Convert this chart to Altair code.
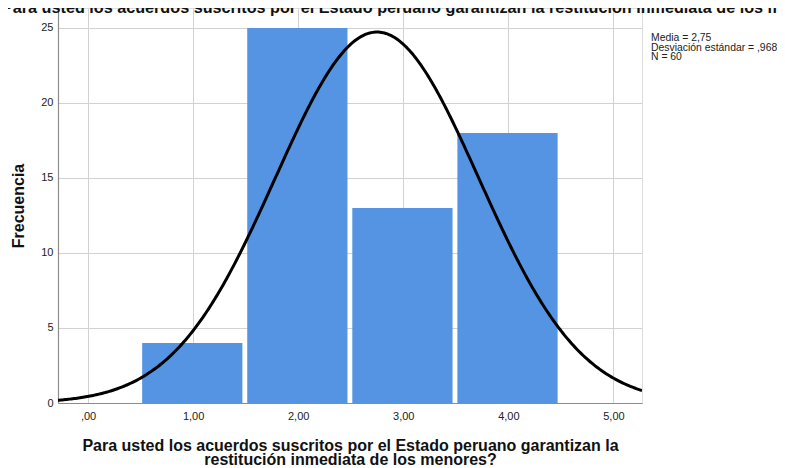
import altair as alt
import pandas as pd
import numpy as np

# ---- data ----
categories = [1, 2, 3, 4]
counts = [4, 25, 13, 18]
media = 2.75
desviacion = 0.968
n_total = 60
x_ticks = [0, 1, 2, 3, 4, 5]
x_tick_labels = [",00", "1,00", "2,00", "3,00", "4,00", "5,00"]
y_ticks = [0, 5, 10, 15, 20, 25]
stats_lines = ["Media = 2,75", "Desviación estándar = ,968", "N = 60"]
chart_title = ("Para usted los acuerdos suscritos por el Estado peruano garantizan "
               "la restitución inmediata de los menores?")
x_title = ["Para usted los acuerdos suscritos por el Estado peruano garantizan la",
           "restitución inmediata de los menores?"]
y_title = "Frecuencia"

# ---- layout / style ----
FONT = "Liberation Sans"
BAR_COLOR = "#5594e2"
GRID = "#d2d2d2"
AXIS = "#8c8c8c"
W, H = 584, 395
XDOM = [-0.286, 5.272]
YDOM = [0, 26.33]

bars = pd.DataFrame({
    "x0": [c - 0.485 for c in categories],
    "x1": [c + 0.469 for c in categories],
    "count": counts,
})

xs = np.linspace(XDOM[0], XDOM[1], 400)
dens = n_total * 1.0 / (desviacion * np.sqrt(2 * np.pi)) * np.exp(-0.5 * ((xs - media) / desviacion) ** 2)
curve = pd.DataFrame({"x": xs, "y": dens})

label_expr = " : ".join(
    f"datum.value == {v} ? '{l}'" for v, l in zip(x_ticks, x_tick_labels)
) + " : ''"

xscale = alt.Scale(domain=XDOM, nice=False, zero=False)
yscale = alt.Scale(domain=YDOM, nice=False)

xaxis = alt.Axis(
    values=x_ticks, labelExpr=label_expr, grid=True, gridColor=GRID, gridWidth=1,
    ticks=False, domainColor=AXIS, domainWidth=1.2, labelFont=FONT, labelFontSize=11,
    labelColor="#222", labelPadding=7,
    title=x_title, titleFont=FONT, titleFontSize=16, titleFontWeight="bold",
    titleColor="#111", titleLineHeight=14.5, titleBaseline="alphabetic",
    titleX=W / 2, titleY=47, titleAlign="center", titleAnchor="middle",
)
yaxis = alt.Axis(
    values=y_ticks, grid=True, gridColor=GRID, gridWidth=1, ticks=False,
    domainColor=AXIS, domainWidth=1.2, labelFont=FONT, labelFontSize=11,
    labelColor="#222", labelPadding=5,
    title=y_title, titleFont=FONT, titleFontSize=16, titleFontWeight="bold",
    titleColor="#111", titleAngle=-90, titleBaseline="alphabetic",
    titleX=-35, titleY=H / 2, titleAlign="center", titleAnchor="middle",
)

bar_layer = alt.Chart(bars).mark_rect(color=BAR_COLOR).encode(
    x=alt.X("x0:Q", scale=xscale, axis=xaxis),
    x2="x1:Q",
    y=alt.Y("count:Q", scale=yscale, axis=yaxis),
    y2=alt.datum(0),
)

curve_layer = alt.Chart(curve).mark_line(color="black", strokeWidth=3, clip=True).encode(
    x=alt.X("x:Q", scale=xscale),
    y=alt.Y("y:Q", scale=yscale),
)

stats_layers = []
for i, line in enumerate(stats_lines):
    stats_layers.append(
        alt.Chart(pd.DataFrame({"t": [line]})).mark_text(
            font=FONT, fontSize=10.4, color="#222", align="left", baseline="alphabetic",
            x=593, y=33 + i * 9.5,
        ).encode(text="t:N")
    )

title_layer = alt.Chart(pd.DataFrame({"t": [chart_title]})).mark_text(
    font=FONT, fontSize=16.2, fontWeight="bold", color="#111", align="left",
    baseline="alphabetic", x=-56, y=5,
).encode(text="t:N")

chart = alt.layer(bar_layer, curve_layer, *stats_layers, title_layer).properties(
    width=W, height=H,
    autosize=alt.AutoSizeParams(type="none"),
    padding={"left": 50, "top": 0, "right": 135, "bottom": 62},
).configure_view(stroke=None).configure(background="white")

chart.save("out.html", embed_options={"renderer": "svg", "actions": False})
